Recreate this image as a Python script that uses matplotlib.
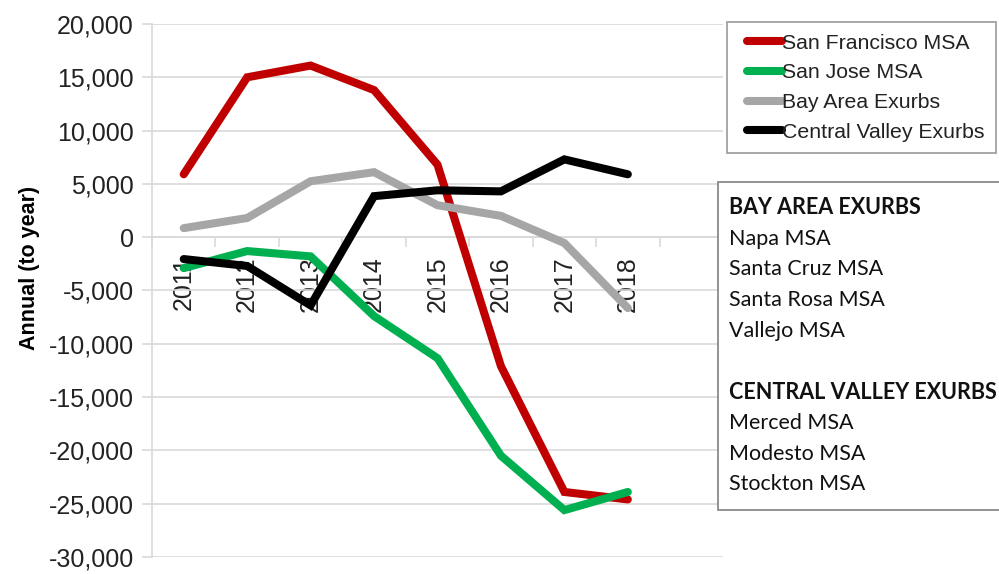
import numpy as np
import matplotlib
matplotlib.use('Agg')
import matplotlib.pyplot as plt
from matplotlib.ticker import FuncFormatter, FixedLocator
from matplotlib.patches import Rectangle
from matplotlib.legend_handler import HandlerLine2D

years = ['2011', '2012', '2013', '2014', '2015', '2016', '2017', '2018']
sf = [5900, 15000, 16100, 13800, 6800, -12100, -23900, -24600]
sj = [-2900, -1300, -1800, -7400, -11350, -20500, -25600, -23900]
bay = [850, 1800, 5250, 6100, 3000, 2000, -550, -6650]
cv = [-2050, -2700, -6400, 3850, 4400, 4300, 7300, 5900]

series_names = ['San Francisco MSA', 'San Jose MSA', 'Bay Area Exurbs', 'Central Valley Exurbs']
series_colors = ['#C00000', '#00B050', '#A6A6A6', '#000000']

box_lines = [('BAY AREA EXURBS', True), ('Napa MSA', False), ('Santa Cruz MSA', False),
             ('Santa Rosa MSA', False), ('Vallejo MSA', False), ('', False),
             ('CENTRAL VALLEY EXURBS', True), ('Merced MSA', False), ('Modesto MSA', False),
             ('Stockton MSA', False)]


class ShortLine(HandlerLine2D):
    # legend swatch only on the right part of the handle box
    def get_xdata(self, legend, xdescent, ydescent, width, height, fontsize):
        xd = np.array([-xdescent + 0.2 * width, -xdescent + width])
        return xd, xd


plt.rcParams['font.family'] = ['Liberation Sans', 'DejaVu Sans']

W, H = 999, 574
fig = plt.figure(figsize=(W / 100, H / 100), dpi=100)
ax = fig.add_axes([152 / W, 1 - 557 / H, (723 - 152) / W, (557 - 24) / H])

x = np.arange(len(years))
grid_c = '#D9D9D9'
for vals, name, col in zip([sf, sj, bay, cv], series_names, series_colors):
    ax.plot(x, vals, color=col, lw=5.8, label=name,
            solid_capstyle='round', solid_joinstyle='miter', zorder=3)

ax.set_xlim(-0.5, 8.5)
ax.set_ylim(-30000, 20000)
ax.set_yticks(np.arange(-30000, 20001, 5000))
ax.yaxis.set_major_formatter(FuncFormatter(lambda v, p: f'{int(v):,}'))
ax.grid(axis='y', color=grid_c, lw=1.2, zorder=0)
ax.tick_params(axis='y', labelsize=18, length=7, color=grid_c, width=1.2, pad=6,
               labelcolor='#222222')

# category axis crossing at zero
ax.spines['bottom'].set_position(('data', 0))
ax.spines['bottom'].set_color(grid_c)
ax.spines['left'].set_color(grid_c)
ax.spines['bottom'].set_linewidth(1.2)
ax.spines['left'].set_linewidth(1.2)
ax.spines['top'].set_visible(False)
ax.spines['right'].set_visible(False)
ax.set_xticks(x)
ax.set_xticklabels(years, rotation=90, fontsize=18, color='#222222')
ax.xaxis.set_minor_locator(FixedLocator(np.arange(-0.5, 9, 1)))
ax.tick_params(axis='x', which='major', length=0, pad=14)
ax.tick_params(axis='x', which='minor', length=7, color=grid_c, width=1.2)

fig.text(30 / W, 1 - 268 / H, 'Annual (to year)', fontsize=15.5, fontweight='bold',
         rotation=90, ha='center', va='center')

leg = fig.legend(loc='upper left', bbox_to_anchor=(727 / W, 1 - 22 / H),
                 fontsize=15.3, frameon=True, fancybox=False, handlelength=2.05,
                 handletextpad=0.0, labelspacing=0.5, borderpad=0.55,
                 borderaxespad=0, handler_map={matplotlib.lines.Line2D: ShortLine()})
leg.get_frame().set_edgecolor('#808080')
leg.get_frame().set_linewidth(1.2)
for t in leg.get_texts():
    t.set_color('#222222')
for ln in leg.get_lines():
    ln.set_solid_capstyle('round')

# descriptive text box
fig.patches.append(Rectangle((718 / W, 1 - 510 / H), (1010 - 718) / W, (510 - 182) / H,
                             transform=fig.transFigure, facecolor='white',
                             edgecolor='#808080', lw=1.2, zorder=5))
y0 = 208
step = 30.7
for i, (txt, bold) in enumerate(box_lines):
    fig.text(729 / W, 1 - (y0 + i * step) / H, txt, fontsize=15.5,
             fontweight='bold' if bold else 'normal', family=['Lato', 'DejaVu Sans'],
             va='center', ha='left', color='#111111', zorder=6)

fig.savefig('out.png', dpi=100)
